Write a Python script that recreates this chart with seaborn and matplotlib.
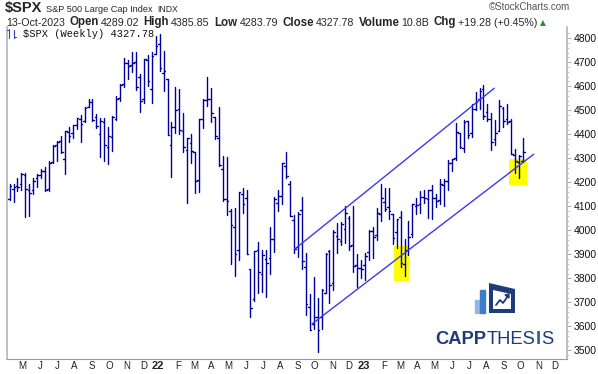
import numpy as np
import pandas as pd
import seaborn as sns
import matplotlib

matplotlib.use("Agg")
import matplotlib.pyplot as plt
import matplotlib.dates as mdates
from matplotlib.patches import Rectangle, Polygon
from matplotlib.lines import Line2D

# weekly $SPX bars, first bar is the week ending 16-Apr-2021
first_week = "2021-04-16"

opens = [
    4130, 4174, 4185, 4192, 4229, 4169, 4168, 4216, 4230, 4248,
    4174, 4285, 4356, 4373, 4296, 4410, 4407, 4438, 4462, 4454,
    4513, 4536, 4474, 4402, 4450, 4348, 4390, 4464, 4553, 4610,
    4697, 4689, 4700, 4640, 4548, 4711, 4588, 4733, 4778, 4655,
    4632, 4357, 4431, 4506, 4412, 4333, 4363, 4327, 4210, 4463,
    4541, 4547, 4474, 4386, 4255, 4131, 4082, 4013, 3920, 4151,
    4134, 3838, 3715, 3920, 3820, 3880, 3883, 3965, 4113, 4145,
    4269, 4195, 4043, 3930, 4084, 3849, 3682, 3610, 3638, 3638,
    3740, 3913, 3779, 3977, 3956, 4005, 4053, 3940, 3854, 3844,
    3854, 3910, 3999, 3979, 4068, 4119, 4096, 4066, 3992, 4055,
    3858, 3918, 3986, 4102, 4110, 4140, 4132, 4167, 4136, 4127,
    4190, 4205, 4282, 4300, 4405, 4344, 4455, 4404, 4506, 4547,
    4588, 4492, 4464, 4380, 4415, 4511, 4462, 4454, 4314, 4285,
    4289.02,
]
highs = [
    4191, 4195, 4219, 4238, 4237, 4195, 4218, 4234, 4255, 4262,
    4287, 4356, 4372, 4393, 4415, 4429, 4440, 4468, 4480, 4513,
    4546, 4549, 4486, 4466, 4466, 4429, 4475, 4559, 4608, 4718,
    4708, 4743, 4743, 4652, 4713, 4731, 4741, 4808, 4819, 4749,
    4632, 4453, 4595, 4590, 4490, 4385, 4402, 4327, 4465, 4546,
    4637, 4593, 4474, 4513, 4308, 4307, 4090, 4091, 4158, 4177,
    4169, 3838, 3914, 3950, 3918, 3918, 4013, 4140, 4168, 4280,
    4325, 4204, 4062, 4076, 4140, 3907, 3733, 3806, 3718, 3757,
    3905, 3920, 4000, 4029, 4034, 4101, 4060, 4101, 3902, 3878,
    3906, 4003, 4015, 4095, 4195, 4176, 4176, 4066, 4049, 4079,
    3964, 4039, 4110, 4133, 4164, 4170, 4170, 4187, 4153, 4212,
    4212, 4291, 4299, 4448, 4407, 4458, 4456, 4528, 4578, 4594,
    4607, 4527, 4490, 4458, 4541, 4515, 4528, 4465, 4339, 4312,
    4385.85,
]
lows = [
    4125, 4118, 4165, 4169, 4056, 4061, 4153, 4179, 4218, 4165,
    4165, 4279, 4289, 4322, 4233, 4367, 4383, 4424, 4367, 4450,
    4513, 4456, 4427, 4306, 4289, 4278, 4329, 4459, 4537, 4595,
    4630, 4659, 4585, 4495, 4532, 4600, 4531, 4733, 4662, 4582,
    4396, 4223, 4405, 4402, 4327, 4115, 4279, 4157, 4161, 4425,
    4518, 4450, 4381, 4267, 4124, 4063, 3859, 3811, 3876, 4074,
    3900, 3637, 3705, 3739, 3742, 3721, 3818, 3911, 4079, 4111,
    4218, 4058, 3907, 3887, 3838, 3647, 3584, 3591, 3492, 3591,
    3740, 3699, 3753, 3906, 3938, 3947, 3918, 3827, 3765, 3800,
    3795, 3877, 3886, 3958, 4037, 4079, 4048, 3944, 3928, 3847,
    3809, 3899, 3972, 4069, 4072, 4114, 4050, 4048, 4099, 4109,
    4103, 4167, 4248, 4292, 4341, 4328, 4385, 4389, 4503, 4505,
    4464, 4457, 4335, 4356, 4415, 4431, 4444, 4316, 4238, 4217,
    4283.79,
]
closes = [
    4185, 4180, 4181, 4233, 4174, 4156, 4204, 4230, 4247, 4166,
    4281, 4352, 4370, 4327, 4412, 4395, 4437, 4468, 4442, 4509,
    4535, 4459, 4433, 4455, 4357, 4391, 4471, 4545, 4605, 4698,
    4683, 4698, 4595, 4538, 4712, 4621, 4726, 4766, 4677, 4663,
    4398, 4432, 4501, 4419, 4349, 4385, 4329, 4204, 4463, 4543,
    4546, 4488, 4393, 4272, 4132, 4123, 4024, 3901, 4158, 4109,
    3901, 3675, 3912, 3825, 3899, 3863, 3962, 4130, 4145, 4280,
    4228, 4058, 3924, 4067, 3873, 3693, 3586, 3640, 3583, 3753,
    3901, 3771, 3993, 3965, 4026, 4072, 3934, 3852, 3845, 3840,
    3895, 3999, 3973, 4071, 4136, 4090, 4079, 3970, 4046, 3862,
    3917, 3971, 4109, 4105, 4138, 4134, 4169, 4136, 4124, 4192,
    4205, 4282, 4299, 4410, 4348, 4450, 4399, 4505, 4536, 4582,
    4478, 4464, 4370, 4406, 4516, 4457, 4450, 4320, 4288, 4309,
    4327.78,
]

# channel lines drawn on the chart: (dates, prices)
upper_dates = ["2022-09-03", "2023-08-23"]
upper_prices = [3921, 4592]
lower_dates = ["2022-10-04", "2023-11-01"]
lower_prices = [3610, 4317]

# yellow highlight boxes: (start date, end date, low price, high price)
box_starts = ["2023-02-27", "2023-09-19"]
box_ends = ["2023-03-25", "2023-10-20"]
box_lows = [3789, 4189]
box_highs = [3935, 4298]

y_ticks = list(range(3500, 4900, 100))

BAR_COLOR = "#000099"
LINE_COLOR = "#3a3af5"
GRAY = "#b4b4b4"
W, H = 598, 374


def px(x, y):
    # pixel position (from top-left) -> figure fraction
    return x / W, 1 - y / H


sns.set_style("white")
plt.rcParams["font.family"] = ["Liberation Sans", "DejaVu Sans"]

fig = plt.figure(figsize=(W / 100, H / 100), dpi=100)
ax = fig.add_axes([7.3 / W, 1 - 359 / H, (567 - 7.3) / W, (359 - 27) / H])
renderer = fig.canvas.get_renderer()


def run_text(x, y, pieces, **kw):
    # place text pieces left to right from pixel x; gap given in pixels
    cur = x
    for s, gap, props in pieces:
        opts = dict(kw)
        opts.update(props)
        t = fig.text(*px(cur + gap, y), s, va="baseline", **opts)
        bb = t.get_window_extent(renderer=renderer)
        cur = bb.x1
    return cur


weeks = pd.date_range(first_week, periods=len(closes), freq="W-FRI")
xs = mdates.date2num(weeks)
n = len(xs)
half = 3.0  # days, length of open/close ticks

# long frame: one unit per drawn segment (high-low, open tick, close tick)
seg_x, seg_y, seg_id = [], [], []
for i in range(n):
    seg_x += [xs[i], xs[i], xs[i] - half, xs[i], xs[i], xs[i] + half]
    seg_y += [lows[i], highs[i], opens[i], opens[i], closes[i], closes[i]]
    seg_id += [3 * i, 3 * i, 3 * i + 1, 3 * i + 1, 3 * i + 2, 3 * i + 2]
bars = pd.DataFrame({"x": seg_x, "price": seg_y, "seg": seg_id})

# yellow boxes
for s, e, lo, hi in zip(box_starts, box_ends, box_lows, box_highs):
    x0, x1 = mdates.date2num(pd.to_datetime([s, e]))
    ax.add_patch(Rectangle((x0, lo), x1 - x0, hi - lo, facecolor="#ffff00",
                           edgecolor="none", zorder=0))

sns.lineplot(data=bars, x="x", y="price", units="seg", estimator=None,
             sort=False, color=BAR_COLOR, lw=1.0, ax=ax, zorder=2)

# channel
for d, p in [(upper_dates, upper_prices), (lower_dates, lower_prices)]:
    ch = pd.DataFrame({"x": mdates.date2num(pd.to_datetime(d)), "price": p})
    sns.lineplot(data=ch, x="x", y="price", color=LINE_COLOR, lw=1.0,
                 ax=ax, zorder=3)

ax.set_xlim(xs[0] - 4, mdates.date2num(pd.Timestamp("2023-12-30")))
ax.set_ylim(3464, 4847)
ax.set_xlabel("")
ax.set_ylabel("")

# axes frame
ax.spines["top"].set_visible(False)
for side in ["left", "right"]:
    ax.spines[side].set_color(GRAY)
    ax.spines[side].set_linewidth(1.2)
ax.spines["bottom"].set_color("#999999")
ax.spines["bottom"].set_linestyle((0, (1, 1)))
ax.spines["bottom"].set_linewidth(0.8)

# right price axis
ax.yaxis.tick_right()
ax.set_yticks(y_ticks)
ax.set_yticks(range(3480, 4840, 20), minor=True)
ax.tick_params(axis="y", which="major", length=3, width=0.6, color="#999999",
               labelsize=7.5, pad=1.5, labelcolor="#111111")
ax.tick_params(axis="y", which="minor", length=1.5, width=0.5, color="#aaaaaa")

# month labels
months = pd.date_range("2021-05-01", "2023-12-01", freq="MS")
tick_pos, tick_lab = [], []
for m in months:
    if m.month == 1:
        tick_pos.append(mdates.date2num(m + pd.Timedelta(days=2)))
        tick_lab.append(m.strftime("%y"))
    else:
        tick_pos.append(mdates.date2num(m + pd.Timedelta(days=8)))
        tick_lab.append(m.strftime("%b")[0])
ax.set_xticks(tick_pos)
ax.set_xticklabels(tick_lab)
ax.tick_params(axis="x", length=0, pad=1.5, labelsize=7, labelcolor="#222222")
for lab in ax.get_xticklabels():
    if lab.get_text().isdigit():
        lab.set_fontweight("bold")
        lab.set_fontsize(8)
ax.grid(False)

# header
B = {"fontweight": "bold", "fontsize": 8.3}
R = {"fontsize": 7.7}
run_text(5, 12, [("$SPX", 0, {"fontsize": 10.5, "fontweight": "bold"}),
                 ("S&P 500 Large Cap Index", 4, {"fontsize": 6.6}),
                 ("INDX", 4, {"fontsize": 6.2})])
run_text(6, 25.5, [("13-Oct-2023", 0, R), ("Open", 4.5, B), ("4289.02", 2, R),
                   ("High", 4.5, B), ("4385.85", 2, R), ("Low", 4.5, B),
                   ("4283.79", 2, R), ("Close", 4.5, B), ("4327.78", 2, R),
                   ("Volume", 4.5, B), ("10.8B", 2, R), ("Chg", 4.5, B),
                   ("+19.28 (+0.45%)", 2, R),
                   ("\u25b2", 2.5, {"fontsize": 5.5, "color": "#2e8b2e",
                                    "family": ["DejaVu Sans"]})])
fig.text(*px(570, 7), "\u00a9StockCharts.com", fontsize=7, color="#555555",
         va="center", ha="right")

# legend line
fig.text(*px(23, 34), "$SPX (Weekly) 4327.78", fontsize=7.5, va="center",
         family=["Liberation Mono", "DejaVu Sans Mono"], color="#111111")
for (x0, y0, y1, xt0, yt0, xt1, yt1) in [(9, 29, 38, 7, 30, 9, 30),
                                         (14, 30, 38, 14, 37, 16, 37)]:
    fig.add_artist(Line2D([px(x0, y0)[0], px(x0, y1)[0]],
                          [px(x0, y0)[1], px(x0, y1)[1]], color="#3344bb", lw=0.8))
    fig.add_artist(Line2D([px(xt0, yt0)[0], px(xt1, yt1)[0]],
                          [px(xt0, yt0)[1], px(xt1, yt1)[1]], color="#3344bb", lw=0.8))

# CAPPTHESIS logo
navy = "#1f3c78"
fig.add_artist(Rectangle(px(475, 313), 3.5 / W, 13 / H, color="#8fb8e3"))
fig.add_artist(Rectangle(px(480, 313), 4.5 / W, 23 / H, color="#3f7cc4"))
fig.add_artist(Polygon([px(489, 313), px(489, 283), px(515, 289), px(515, 313)],
                       closed=True, facecolor=navy, edgecolor="none"))
fig.add_artist(Polygon([px(493, 309), px(493, 290), px(511, 294), px(511, 309)],
                       closed=True, facecolor="white", edgecolor="none"))
zz = [px(496, 305), px(500, 300), px(503, 303), px(508, 296)]
fig.add_artist(Line2D([p[0] for p in zz], [p[1] for p in zz], color=navy, lw=1.3))
fig.add_artist(Polygon([px(505, 295), px(509, 294), px(509, 298)], closed=True,
                       facecolor=navy, edgecolor=navy))
run_text(435, 344, [("CAPP", 0, {"fontweight": "bold", "color": navy}),
                    ("THES", 0.5, {"color": navy}),
                    ("I", 0.5, {"fontweight": "bold", "color": "#2b5ea7"}),
                    ("S", 0.5, {"color": navy})], fontsize=13.2)

fig.savefig("out.png", dpi=100)
